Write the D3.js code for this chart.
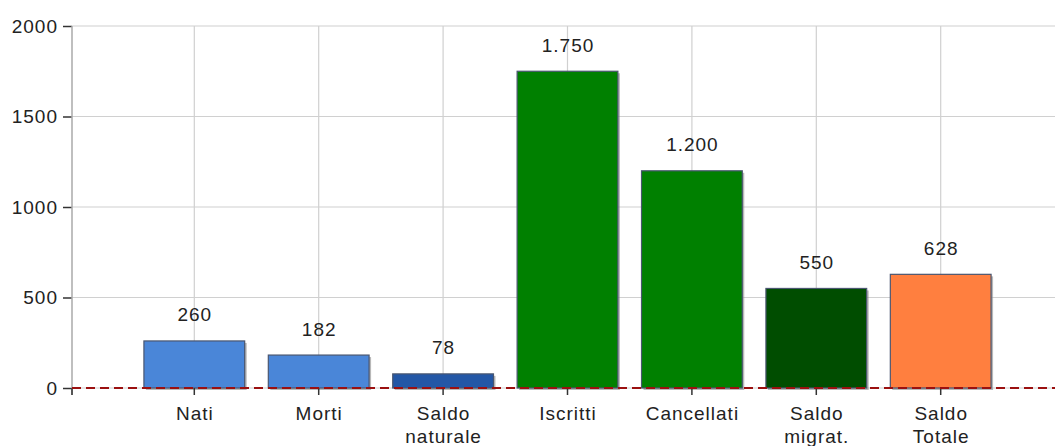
<!DOCTYPE html>
<html><head><meta charset="utf-8">
<script src="https://cdn.jsdelivr.net/npm/d3@7"></script>
<style>body{margin:0;background:#fff;} text{font-family:"Liberation Sans",Arial,sans-serif;letter-spacing:1px;}</style>
</head><body><svg id="c" width="1055" height="446"></svg>
<script>
const categories = ["Nati","Morti","Saldo\nnaturale","Iscritti","Cancellati","Saldo\nmigrat.","Saldo\nTotale"];
const values = [260,182,78,1750,1200,550,628];
const colors = ["#4a86d8","#4a86d8","#2357a6","#008000","#008000","#004d00","#ff7f3f"];
const yTicks = [0,500,1000,1500,2000];

const svg = d3.select("#c");
const W = 1055, axisX = 72, FS = 19;
const x = d3.scaleBand().domain(categories).range([132.1, 132.1 + 7*124.4]).paddingInner(0.19).paddingOuter(0.095);
const y = d3.scaleLinear().domain([0,2000]).range([388,26]);
const cx = d => x(d) + x.bandwidth()/2;
const fmt = d3.formatLocale({decimal:",",thousands:".",grouping:[3],currency:["€",""]}).format(",d");

// grid
svg.append("g").selectAll("line.h").data(yTicks).join("line")
  .attr("x1",axisX).attr("x2",W).attr("y1",d=>y(d)).attr("y2",d=>y(d))
  .attr("stroke","#d0d0d0").attr("stroke-width",1.2);
svg.append("g").selectAll("line.v").data(categories).join("line")
  .attr("x1",cx).attr("x2",cx).attr("y1",y(2000)).attr("y2",y(0))
  .attr("stroke","#d0d0d0").attr("stroke-width",1.2);

// y axis
const ya = svg.append("g").attr("transform",`translate(${axisX},0)`)
  .call(d3.axisLeft(y).tickValues(yTicks).tickSize(9).tickPadding(5).tickFormat(d3.format("d")));
ya.select(".domain").remove();
ya.selectAll(".tick line").attr("stroke","#333").attr("stroke-width",1.5);
ya.selectAll(".tick text").attr("font-size",FS).attr("fill","#222").attr("font-family","Liberation Sans, Arial, sans-serif");
svg.append("line").attr("x1",axisX).attr("x2",axisX).attr("y1",y(2000)).attr("y2",y(0)+7)
  .attr("stroke","#aaa").attr("stroke-width",1.5);

// bars shadow
const bars = svg.append("g");
bars.selectAll("rect.s").data(values).join("rect")
  .attr("x",(d,i)=>x(categories[i])+2).attr("y",d=>y(d)+2)
  .attr("width",x.bandwidth()).attr("height",d=>y(0)-y(d))
  .attr("fill","#888").attr("opacity",0.6);
bars.selectAll("rect.b").data(values).join("rect")
  .attr("x",(d,i)=>x(categories[i])).attr("y",d=>y(d))
  .attr("width",x.bandwidth()).attr("height",d=>y(0)-y(d))
  .attr("fill",(d,i)=>colors[i]).attr("stroke","#4a5670").attr("stroke-width",1.2);

// value labels
svg.append("g").selectAll("text").data(values).join("text")
  .attr("x",(d,i)=>cx(categories[i])+0.5).attr("y",d=>y(d)-19.5)
  .attr("text-anchor","middle").attr("font-size",FS).attr("fill","#222")
  .text(d=>fmt(d));

// x axis
const xa = svg.append("g").attr("transform",`translate(0,${y(0)})`)
  .call(d3.axisBottom(x).tickSize(7).tickFormat(""));
xa.select(".domain").remove();
xa.selectAll(".tick line").attr("stroke","#333").attr("stroke-width",1.5);
svg.append("line").attr("x1",axisX).attr("x2",axisX).attr("y1",y(0)).attr("y2",y(0)+7).attr("stroke","#333").attr("stroke-width",1.5);
xa.selectAll(".tick").each(function(d){
  const lines = d.split("\n");
  const t = d3.select(this).append("text").attr("text-anchor","middle").attr("font-size",FS).attr("fill","#222");
  lines.forEach((l,j)=>t.append("tspan").attr("x",0.5).attr("y",32+j*23).text(l));
});

// zero dashed line
svg.append("line").attr("x1",axisX).attr("x2",W).attr("y1",y(0)).attr("y2",y(0))
  .attr("stroke","#9b1010").attr("stroke-width",2).attr("stroke-dasharray","9,5");
</script></body></html>
